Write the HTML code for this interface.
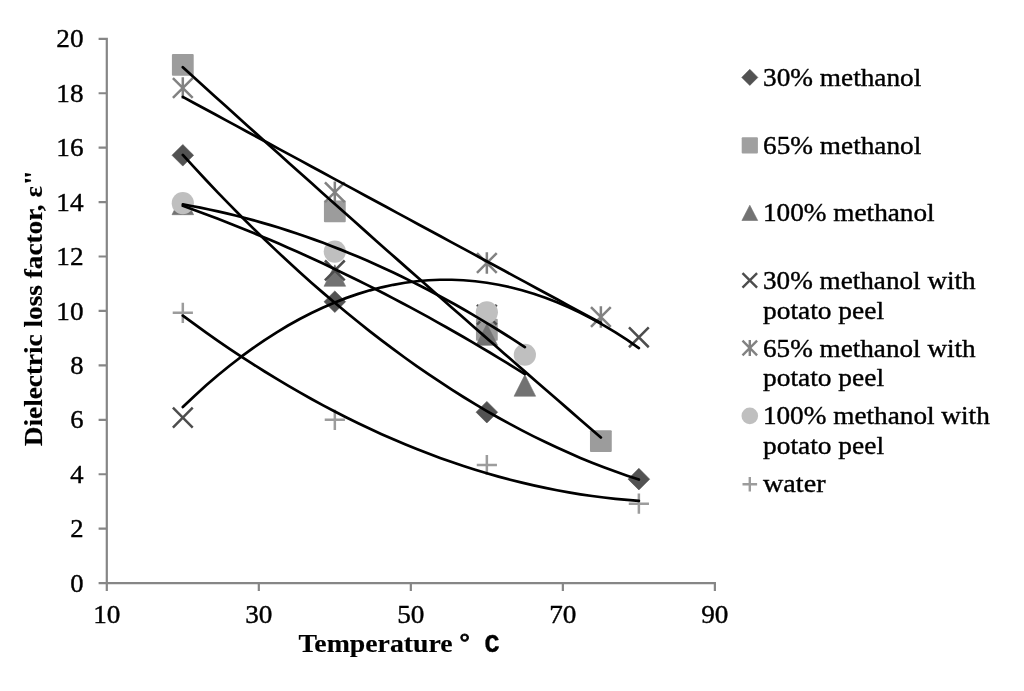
<!DOCTYPE html>
<html><head><meta charset="utf-8"><title>chart</title>
<style>
html,body{margin:0;padding:0;background:#fff;}
body{width:1024px;height:691px;overflow:hidden;}
svg{display:block;filter:grayscale(1);}
text{font-family:"Liberation Serif",serif;fill:#000;stroke:#000;stroke-width:0.4px;stroke-linejoin:round;}
.b{font-weight:bold;stroke-width:0.15px;}
</style></head><body>
<svg width="1024" height="691" viewBox="0 0 1024 691">
<rect width="1024" height="691" fill="#fff"/>
<path d="M106.8,37.70 L106.8,591.10 M98.60,583.1 L715.98,583.1 M98.60,583.10 L106.8,583.10 M98.60,528.67 L106.8,528.67 M98.60,474.24 L106.8,474.24 M98.60,419.81 L106.8,419.81 M98.60,365.38 L106.8,365.38 M98.60,310.95 L106.8,310.95 M98.60,256.52 L106.8,256.52 M98.60,202.09 L106.8,202.09 M98.60,147.66 L106.8,147.66 M98.60,93.23 L106.8,93.23 M98.60,38.80 L106.8,38.80 M106.80,583.1 L106.80,591.10 M258.82,583.1 L258.82,591.10 M410.84,583.1 L410.84,591.10 M562.86,583.1 L562.86,591.10 M714.88,583.1 L714.88,591.10" stroke="#868686" stroke-width="2.2" fill="none"/>
<text x="83.5" y="591.70" font-size="26.2" text-anchor="end" textLength="13.3" lengthAdjust="spacingAndGlyphs">0</text>
<text x="83.5" y="537.27" font-size="26.2" text-anchor="end" textLength="13.3" lengthAdjust="spacingAndGlyphs">2</text>
<text x="83.5" y="482.84" font-size="26.2" text-anchor="end" textLength="13.3" lengthAdjust="spacingAndGlyphs">4</text>
<text x="83.5" y="428.41" font-size="26.2" text-anchor="end" textLength="13.3" lengthAdjust="spacingAndGlyphs">6</text>
<text x="83.5" y="373.98" font-size="26.2" text-anchor="end" textLength="13.3" lengthAdjust="spacingAndGlyphs">8</text>
<text x="83.5" y="319.55" font-size="26.2" text-anchor="end" textLength="27.2" lengthAdjust="spacingAndGlyphs">10</text>
<text x="83.5" y="265.12" font-size="26.2" text-anchor="end" textLength="27.2" lengthAdjust="spacingAndGlyphs">12</text>
<text x="83.5" y="210.69" font-size="26.2" text-anchor="end" textLength="27.2" lengthAdjust="spacingAndGlyphs">14</text>
<text x="83.5" y="156.26" font-size="26.2" text-anchor="end" textLength="27.2" lengthAdjust="spacingAndGlyphs">16</text>
<text x="83.5" y="101.83" font-size="26.2" text-anchor="end" textLength="27.2" lengthAdjust="spacingAndGlyphs">18</text>
<text x="83.5" y="47.40" font-size="26.2" text-anchor="end" textLength="27.2" lengthAdjust="spacingAndGlyphs">20</text>
<text x="106.80" y="623.1" font-size="26.2" text-anchor="middle" textLength="27.2" lengthAdjust="spacingAndGlyphs">10</text>
<text x="258.82" y="623.1" font-size="26.2" text-anchor="middle" textLength="27.2" lengthAdjust="spacingAndGlyphs">30</text>
<text x="410.84" y="623.1" font-size="26.2" text-anchor="middle" textLength="27.2" lengthAdjust="spacingAndGlyphs">50</text>
<text x="562.86" y="623.1" font-size="26.2" text-anchor="middle" textLength="27.2" lengthAdjust="spacingAndGlyphs">70</text>
<text x="714.88" y="623.1" font-size="26.2" text-anchor="middle" textLength="27.2" lengthAdjust="spacingAndGlyphs">90</text>
<text class="b" x="298.4" y="652.1" font-size="25.7" textLength="154.2" lengthAdjust="spacingAndGlyphs">Temperature</text>
<text class="b" x="459.6" y="650.0" font-size="25.7" style="stroke-width:0.8px">°</text>
<text class="b" x="484.6" y="652.1" font-size="25.2" style="font-family:'Liberation Mono',monospace;stroke-width:0.3px">C</text>
<g transform="translate(42.2,446.2) rotate(-90)">
<text class="b" x="0" y="0" font-size="25.7" textLength="241.8" lengthAdjust="spacingAndGlyphs">Dielectric loss factor,</text>
<text class="b" x="248.6" y="0" font-size="25.7" textLength="11.4" lengthAdjust="spacingAndGlyphs">ε</text>
<text class="b" x="260.6" y="0" font-size="25.7" textLength="15.6" lengthAdjust="spacingAndGlyphs">"</text>
</g>
<path d="M172.01,155.28 L182.81,144.48 L193.61,155.28 L182.81,166.08 Z" fill="#525252" stroke="#525252" stroke-width="0.6" stroke-linejoin="round"/>
<path d="M324.03,301.70 L334.83,290.90 L345.63,301.70 L334.83,312.50 Z" fill="#525252" stroke="#525252" stroke-width="0.6" stroke-linejoin="round"/>
<path d="M476.05,412.19 L486.85,401.39 L497.65,412.19 L486.85,422.99 Z" fill="#525252" stroke="#525252" stroke-width="0.6" stroke-linejoin="round"/>
<path d="M628.07,479.14 L638.87,468.34 L649.67,479.14 L638.87,489.94 Z" fill="#525252" stroke="#525252" stroke-width="0.6" stroke-linejoin="round"/>
<rect x="171.91" y="54.03" width="21.8" height="21.8" rx="1" fill="#9c9c9c"/>
<rect x="323.93" y="200.44" width="21.8" height="21.8" rx="1" fill="#9c9c9c"/>
<rect x="475.95" y="318.83" width="21.8" height="21.8" rx="1" fill="#9c9c9c"/>
<rect x="589.97" y="430.14" width="21.8" height="21.8" rx="1" fill="#9c9c9c"/>
<path d="M172.01,214.70 L182.81,193.30 L193.61,214.70 Z" fill="#727272" stroke="#727272" stroke-width="0.6" stroke-linejoin="round"/>
<path d="M324.03,286.27 L334.83,264.87 L345.63,286.27 Z" fill="#727272" stroke="#727272" stroke-width="0.6" stroke-linejoin="round"/>
<path d="M476.05,345.33 L486.85,323.93 L497.65,345.33 Z" fill="#727272" stroke="#727272" stroke-width="0.6" stroke-linejoin="round"/>
<path d="M514.06,396.22 L524.86,374.82 L535.65,396.22 Z" fill="#727272" stroke="#727272" stroke-width="0.6" stroke-linejoin="round"/>
<path d="M172.91,407.73 L192.71,427.53 M172.91,427.53 L192.71,407.73" stroke="#4d4d4d" stroke-width="2.5" fill="none"/>
<path d="M324.93,260.50 L344.73,280.30 M324.93,280.30 L344.73,260.50" stroke="#4d4d4d" stroke-width="2.5" fill="none"/>
<path d="M476.95,304.86 L496.75,324.66 M476.95,324.66 L496.75,304.86" stroke="#4d4d4d" stroke-width="2.5" fill="none"/>
<path d="M628.97,327.45 L648.77,347.25 M628.97,347.25 L648.77,327.45" stroke="#4d4d4d" stroke-width="2.5" fill="none"/>
<path d="M172.91,78.16 L192.71,97.96 M172.91,97.96 L192.71,78.16 M182.81,77.36 L182.81,98.76" stroke="#828282" stroke-width="2.5" fill="none"/>
<path d="M324.93,182.39 L344.73,202.19 M324.93,202.19 L344.73,182.39 M334.83,181.59 L334.83,202.99" stroke="#828282" stroke-width="2.5" fill="none"/>
<path d="M476.95,253.15 L496.75,272.95 M476.95,272.95 L496.75,253.15 M486.85,252.35 L486.85,273.75" stroke="#828282" stroke-width="2.5" fill="none"/>
<path d="M590.97,307.04 L610.76,326.84 M590.97,326.84 L610.76,307.04 M600.87,306.24 L600.87,327.64" stroke="#828282" stroke-width="2.5" fill="none"/>
<circle cx="182.81" cy="203.18" r="11.1" fill="#bfbfbf"/>
<circle cx="334.83" cy="251.62" r="11.1" fill="#bfbfbf"/>
<circle cx="486.85" cy="312.31" r="11.1" fill="#bfbfbf"/>
<circle cx="524.86" cy="354.77" r="11.1" fill="#bfbfbf"/>
<path d="M172.71,312.86 L192.91,312.86 M182.81,302.76 L182.81,322.96" stroke="#9c9c9c" stroke-width="2.5" fill="none"/>
<path d="M324.73,419.81 L344.93,419.81 M334.83,409.71 L334.83,429.91" stroke="#9c9c9c" stroke-width="2.5" fill="none"/>
<path d="M476.75,464.99 L496.95,464.99 M486.85,454.89 L486.85,475.09" stroke="#9c9c9c" stroke-width="2.5" fill="none"/>
<path d="M628.77,503.63 L648.97,503.63 M638.87,493.53 L638.87,513.73" stroke="#9c9c9c" stroke-width="2.5" fill="none"/>
<path d="M182.81,154.90 L194.50,167.69 L206.20,180.25 L217.89,192.57 L229.59,204.65 L241.28,216.50 L252.97,228.12 L264.67,239.50 L276.36,250.64 L288.05,261.55 L299.75,272.23 L311.44,282.67 L323.14,292.87 L334.83,302.84 L346.52,312.57 L358.22,322.07 L369.91,331.34 L381.61,340.37 L393.30,349.16 L404.99,357.72 L416.69,366.04 L428.38,374.13 L440.07,381.98 L451.77,389.60 L463.46,396.99 L475.16,404.13 L486.85,411.05 L498.54,417.72 L510.24,424.17 L521.93,430.37 L533.63,436.35 L545.32,442.08 L557.01,447.59 L568.71,452.85 L580.40,457.89 L592.09,462.68 L603.79,467.24 L615.48,471.57 L627.18,475.66 L638.87,479.52" stroke="#000" stroke-width="2.7" fill="none" stroke-linecap="round" stroke-linejoin="round"/>
<path d="M182.81,67.27 L193.53,76.99 L204.25,86.69 L214.97,96.39 L225.69,106.07 L236.41,115.74 L247.13,125.40 L257.85,135.05 L268.56,144.69 L279.28,154.31 L290.00,163.92 L300.72,173.52 L311.44,183.11 L322.16,192.69 L332.88,202.25 L343.60,211.80 L354.32,221.34 L365.04,230.87 L375.76,240.39 L386.48,249.89 L397.20,259.38 L407.92,268.87 L418.64,278.33 L429.36,287.79 L440.07,297.24 L450.79,306.67 L461.51,316.09 L472.23,325.50 L482.95,334.89 L493.67,344.28 L504.39,353.65 L515.11,363.01 L525.83,372.36 L536.55,381.70 L547.27,391.02 L557.99,400.34 L568.71,409.64 L579.43,418.93 L590.15,428.21 L600.87,437.47" stroke="#000" stroke-width="2.7" fill="none" stroke-linecap="round" stroke-linejoin="round"/>
<path d="M182.81,205.79 L191.58,208.94 L200.35,212.16 L209.12,215.44 L217.89,218.78 L226.66,222.17 L235.43,225.64 L244.20,229.16 L252.97,232.74 L261.74,236.38 L270.51,240.09 L279.28,243.85 L288.05,247.68 L296.82,251.57 L305.60,255.51 L314.37,259.52 L323.14,263.59 L331.91,267.72 L340.68,271.92 L349.45,276.17 L358.22,280.48 L366.99,284.86 L375.76,289.30 L384.53,293.79 L393.30,298.35 L402.07,302.97 L410.84,307.65 L419.61,312.39 L428.38,317.19 L437.15,322.06 L445.92,326.98 L454.69,331.97 L463.46,337.01 L472.23,342.12 L481.00,347.29 L489.77,352.52 L498.54,357.81 L507.31,363.16 L516.08,368.57 L524.86,374.04" stroke="#000" stroke-width="2.7" fill="none" stroke-linecap="round" stroke-linejoin="round"/>
<path d="M182.81,406.96 L194.50,395.91 L206.20,385.35 L217.89,375.30 L229.59,365.75 L241.28,356.70 L252.97,348.15 L264.67,340.11 L276.36,332.57 L288.05,325.53 L299.75,319.00 L311.44,312.96 L323.14,307.43 L334.83,302.40 L346.52,297.88 L358.22,293.85 L369.91,290.33 L381.61,287.31 L393.30,284.80 L404.99,282.78 L416.69,281.27 L428.38,280.26 L440.07,279.76 L451.77,279.75 L463.46,280.25 L475.16,281.25 L486.85,282.76 L498.54,284.76 L510.24,287.27 L521.93,290.28 L533.63,293.79 L545.32,297.81 L557.01,302.32 L568.71,307.35 L580.40,312.87 L592.09,318.89 L603.79,325.42 L615.48,332.45 L627.18,339.98 L638.87,348.02" stroke="#000" stroke-width="2.7" fill="none" stroke-linecap="round" stroke-linejoin="round"/>
<path d="M182.81,96.91 L193.53,102.71 L204.25,108.51 L214.97,114.30 L225.69,120.10 L236.41,125.90 L247.13,131.69 L257.85,137.49 L268.56,143.29 L279.28,149.08 L290.00,154.88 L300.72,160.68 L311.44,166.47 L322.16,172.27 L332.88,178.07 L343.60,183.86 L354.32,189.66 L365.04,195.46 L375.76,201.25 L386.48,207.05 L397.20,212.85 L407.92,218.64 L418.64,224.44 L429.36,230.24 L440.07,236.03 L450.79,241.83 L461.51,247.63 L472.23,253.42 L482.95,259.22 L493.67,265.02 L504.39,270.81 L515.11,276.61 L525.83,282.41 L536.55,288.20 L547.27,294.00 L557.99,299.80 L568.71,305.59 L579.43,311.39 L590.15,317.19 L600.87,322.98" stroke="#000" stroke-width="2.7" fill="none" stroke-linecap="round" stroke-linejoin="round"/>
<path d="M182.81,204.37 L191.58,205.96 L200.35,207.66 L209.12,209.46 L217.89,211.37 L226.66,213.40 L235.43,215.53 L244.20,217.77 L252.97,220.12 L261.74,222.58 L270.51,225.15 L279.28,227.83 L288.05,230.61 L296.82,233.51 L305.60,236.51 L314.37,239.63 L323.14,242.85 L331.91,246.19 L340.68,249.63 L349.45,253.18 L358.22,256.84 L366.99,260.61 L375.76,264.49 L384.53,268.47 L393.30,272.57 L402.07,276.78 L410.84,281.09 L419.61,285.52 L428.38,290.05 L437.15,294.69 L445.92,299.44 L454.69,304.30 L463.46,309.27 L472.23,314.35 L481.00,319.54 L489.77,324.84 L498.54,330.25 L507.31,335.76 L516.08,341.39 L524.86,347.12" stroke="#000" stroke-width="2.7" fill="none" stroke-linecap="round" stroke-linejoin="round"/>
<path d="M182.81,315.62 L194.50,324.21 L206.20,332.60 L217.89,340.78 L229.59,348.76 L241.28,356.55 L252.97,364.13 L264.67,371.50 L276.36,378.68 L288.05,385.65 L299.75,392.42 L311.44,398.99 L323.14,405.36 L334.83,411.52 L346.52,417.49 L358.22,423.25 L369.91,428.80 L381.61,434.16 L393.30,439.32 L404.99,444.27 L416.69,449.02 L428.38,453.57 L440.07,457.91 L451.77,462.06 L463.46,466.00 L475.16,469.74 L486.85,473.27 L498.54,476.61 L510.24,479.74 L521.93,482.67 L533.63,485.40 L545.32,487.93 L557.01,490.25 L568.71,492.38 L580.40,494.30 L592.09,496.02 L603.79,497.53 L615.48,498.85 L627.18,499.96 L638.87,500.87" stroke="#000" stroke-width="2.7" fill="none" stroke-linecap="round" stroke-linejoin="round"/>
<path d="M741.75,77.40 L749.80,69.35 L757.85,77.40 L749.80,85.45 Z" fill="#525252" stroke="#525252" stroke-width="0.6" stroke-linejoin="round"/>
<text x="763.0" y="85.8" font-size="26.2" textLength="158.3" lengthAdjust="spacingAndGlyphs">30% methanol</text>
<rect x="741.70" y="137.30" width="16.2" height="16.2" rx="1" fill="#a0a0a0"/>
<text x="763.0" y="153.9" font-size="26.2" textLength="158.3" lengthAdjust="spacingAndGlyphs">65% methanol</text>
<path d="M741.90,220.50 L749.80,205.20 L757.70,220.50 Z" fill="#727272" stroke="#727272" stroke-width="0.6" stroke-linejoin="round"/>
<text x="762.9" y="221.4" font-size="26.2" textLength="171.8" lengthAdjust="spacingAndGlyphs">100% methanol</text>
<path d="M742.50,273.10 L757.10,287.70 M742.50,287.70 L757.10,273.10" stroke="#4d4d4d" stroke-width="2.4" fill="none"/>
<text x="763.0" y="289.2" font-size="26.2" textLength="212.7" lengthAdjust="spacingAndGlyphs">30% methanol with</text>
<text x="763.0" y="318.7" font-size="26.2" textLength="121.0" lengthAdjust="spacingAndGlyphs">potato peel</text>
<path d="M742.50,340.70 L757.10,355.30 M742.50,355.30 L757.10,340.70 M749.80,340.00 L749.80,356.00" stroke="#828282" stroke-width="2.4" fill="none"/>
<text x="763.0" y="357.0" font-size="26.2" textLength="212.7" lengthAdjust="spacingAndGlyphs">65% methanol with</text>
<text x="763.0" y="386.4" font-size="26.2" textLength="121.0" lengthAdjust="spacingAndGlyphs">potato peel</text>
<circle cx="749.80" cy="415.90" r="8.3" fill="#bfbfbf"/>
<text x="762.9" y="424.2" font-size="26.2" textLength="226.9" lengthAdjust="spacingAndGlyphs">100% methanol with</text>
<text x="763.0" y="453.9" font-size="26.2" textLength="121.0" lengthAdjust="spacingAndGlyphs">potato peel</text>
<path d="M742.50,484.20 L757.10,484.20 M749.80,476.90 L749.80,491.50" stroke="#9c9c9c" stroke-width="2.4" fill="none"/>
<text x="763.0" y="491.9" font-size="26.2" textLength="62.5" lengthAdjust="spacingAndGlyphs">water</text>
</svg></body></html>
